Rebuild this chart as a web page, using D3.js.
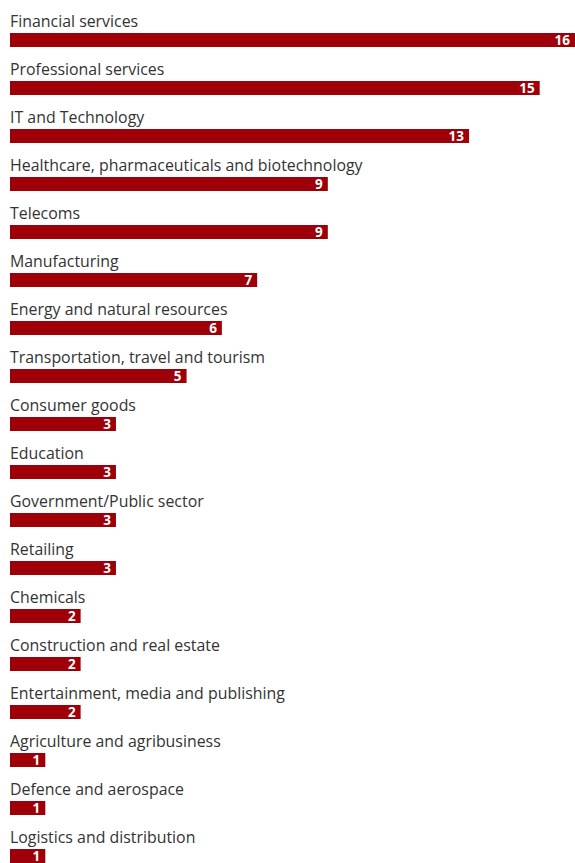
<!DOCTYPE html>
<html>
<head>
<meta charset="utf-8">
<script src="https://cdn.jsdelivr.net/npm/d3@7"></script>
<style>
  html, body { margin: 0; padding: 0; background: #fff; }
  svg { display: block; }
</style>
</head>
<body>
<svg id="chart" width="575" height="863"></svg>
<script>
const sectors = [
  "Financial services",
  "Professional services",
  "IT and Technology",
  "Healthcare, pharmaceuticals and biotechnology",
  "Telecoms",
  "Manufacturing",
  "Energy and natural resources",
  "Transportation, travel and tourism",
  "Consumer goods",
  "Education",
  "Government/Public sector",
  "Retailing",
  "Chemicals",
  "Construction and real estate",
  "Entertainment, media and publishing",
  "Agriculture and agribusiness",
  "Defence and aerospace",
  "Logistics and distribution"
];
const counts = [16, 15, 13, 9, 9, 7, 6, 5, 3, 3, 3, 3, 2, 2, 2, 1, 1, 1];

const width = 575, height = 863;
const svg = d3.select("#chart");

const x = d3.scaleLinear().domain([0, 16]).range([10, 575]);
const y = d3.scaleBand().domain(sectors).range([9, 9 + 48 * sectors.length]).paddingInner(0).paddingOuter(0);

const rows = svg.selectAll("g.row")
  .data(sectors.map((s, i) => ({ name: s, value: counts[i] })))
  .join("g")
  .attr("class", "row")
  .attr("transform", d => `translate(0,${y(d.name)})`);

rows.append("text")
  .attr("x", 10)
  .attr("y", 18)
  .attr("fill", "#333")
  .style("font-family", "'Open Sans', 'Noto Sans', sans-serif")
  .style("font-size", "15.9px")
  .text(d => d.name);

rows.append("rect")
  .attr("x", x(0))
  .attr("y", 24)
  .attr("width", d => x(d.value) - x(0))
  .attr("height", 14)
  .attr("fill", "#9e0009");

rows.append("text")
  .attr("x", d => x(d.value) - 5)
  .attr("y", 36)
  .attr("text-anchor", "end")
  .attr("fill", "#fff")
  .style("font-family", "'Open Sans', 'Noto Sans', sans-serif")
  .style("font-size", "13.5px")
  .style("font-weight", "bold")
  .text(d => d.value);
</script>
</body>
</html>
